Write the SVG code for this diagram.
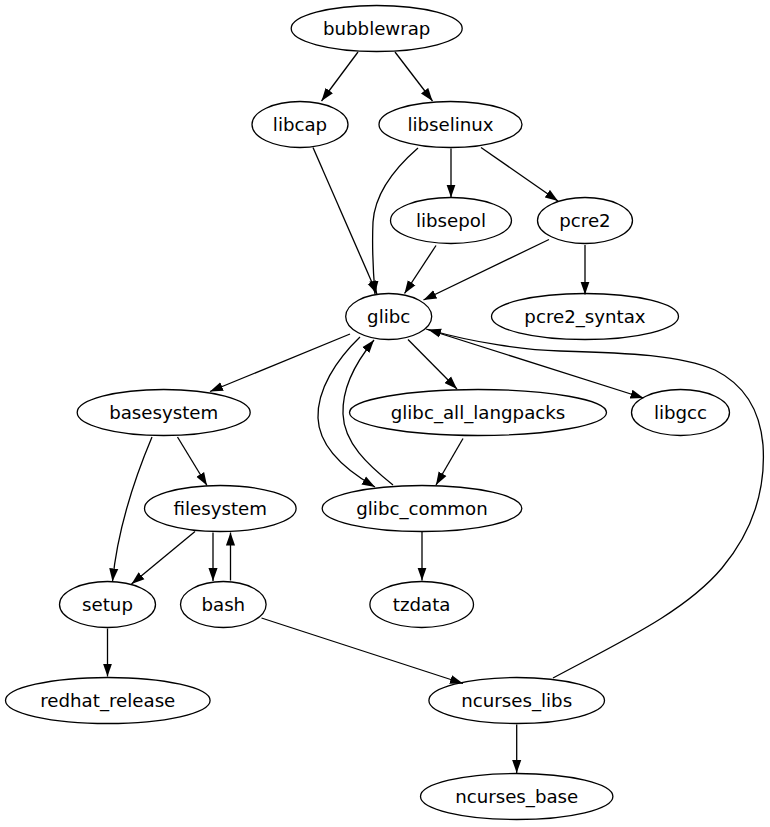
<svg xmlns="http://www.w3.org/2000/svg" width="770" height="827" viewBox="0 0 770 827">
<style>
.node ellipse{fill:none;stroke:#000;stroke-width:1.3}
.node text{font-family:"DejaVu Sans","Liberation Sans",sans-serif;font-size:18.2px;text-anchor:middle;fill:#000}
.edges path{fill:none;stroke:#000;stroke-width:1.3;marker-end:url(#arrow)}
</style>
<defs>
<marker id="arrow" markerUnits="userSpaceOnUse" viewBox="0 0 13 10" refX="13" refY="5" markerWidth="13" markerHeight="10" orient="auto">
<path d="M0,0.45 L13,5 L0,9.55 z" fill="#000"/>
</marker>
</defs>
<rect width="770" height="827" fill="#fff"/>
<g id="edges" class="edges">
<path d="M358,52 L321.5,101"/>
<path d="M395,52 L432.5,101"/>
<path d="M313,147.5 L377,294"/>
<path d="M418,148 C395,168 375,192 373,222 C372,245 373,270 375,294"/>
<path d="M451,148.5 L451,197.5"/>
<path d="M481,147.5 L558,201"/>
<path d="M436,245.5 L404.5,293.5"/>
<path d="M549,239.5 L423.5,300"/>
<path d="M585,245 L585,294.5"/>
<path d="M350,334 L210,391.5"/>
<path d="M408,339.5 L457,389"/>
<path d="M426,329 L643.5,398"/>
<path d="M360,337 C336,360 317,390 318,418 C319,445 342,468 375,487"/>
<path d="M393,485 C368,465 344,443 343,414 C342,388 356,362 374,340"/>
<path d="M463,438.5 L436,485"/>
<path d="M422,532 L422,580.5"/>
<path d="M177.5,437 L207,485.5"/>
<path d="M152,437 C136,475 118,525 112.5,581.5"/>
<path d="M195,531.5 L131.5,584"/>
<path d="M213,532.5 L213,581"/>
<path d="M230.5,580.5 L230.5,532.5"/>
<path d="M107.5,628.5 L107.5,676.5"/>
<path d="M261.5,618 L463,683.5"/>
<path d="M516.7,724.5 L516.7,773"/>
<path d="M553,678 C620,642 685,612 722,568 C752,532 766,490 763,445 C760,410 745,385 715,370 C680,355 630,353 560,351 C525,350 475,343 428,329.5"/>
</g>
<g id="bubblewrap" class="node"><ellipse cx="376.7" cy="28.5" rx="85.5" ry="23"/><text x="376.7" y="34.5">bubblewrap</text></g>
<g id="libcap" class="node"><ellipse cx="300" cy="124.5" rx="48" ry="23"/><text x="300" y="130.5">libcap</text></g>
<g id="libselinux" class="node"><ellipse cx="450.5" cy="124.5" rx="71.5" ry="23"/><text x="450.5" y="130.5">libselinux</text></g>
<g id="libsepol" class="node"><ellipse cx="451" cy="220.5" rx="60.5" ry="23"/><text x="451" y="226.5">libsepol</text></g>
<g id="pcre2" class="node"><ellipse cx="585" cy="220.5" rx="47.5" ry="23"/><text x="585" y="226.5">pcre2</text></g>
<g id="glibc" class="node"><ellipse cx="388.7" cy="316.5" rx="43" ry="23"/><text x="388.7" y="322.5">glibc</text></g>
<g id="pcre2_syntax" class="node"><ellipse cx="585" cy="316.5" rx="93.5" ry="23"/><text x="585" y="322.5">pcre2_syntax</text></g>
<g id="basesystem" class="node"><ellipse cx="163.7" cy="412.5" rx="86.5" ry="23"/><text x="163.7" y="418.5">basesystem</text></g>
<g id="glibc_all_langpacks" class="node"><ellipse cx="478" cy="412.5" rx="128.5" ry="23"/><text x="478" y="418.5">glibc_all_langpacks</text></g>
<g id="libgcc" class="node"><ellipse cx="680.5" cy="412.5" rx="49" ry="23"/><text x="680.5" y="418.5">libgcc</text></g>
<g id="filesystem" class="node"><ellipse cx="220.3" cy="508.5" rx="75.8" ry="23"/><text x="220.3" y="514.5">filesystem</text></g>
<g id="glibc_common" class="node"><ellipse cx="422" cy="508.5" rx="99.8" ry="23"/><text x="422" y="514.5">glibc_common</text></g>
<g id="setup" class="node"><ellipse cx="107.5" cy="604.5" rx="48" ry="23"/><text x="107.5" y="610.5">setup</text></g>
<g id="bash" class="node"><ellipse cx="223.3" cy="604.5" rx="42.8" ry="23"/><text x="223.3" y="610.5">bash</text></g>
<g id="tzdata" class="node"><ellipse cx="421.7" cy="604.5" rx="51.8" ry="23"/><text x="421.7" y="610.5">tzdata</text></g>
<g id="redhat_release" class="node"><ellipse cx="107.8" cy="700.5" rx="102.3" ry="23"/><text x="107.8" y="706.5">redhat_release</text></g>
<g id="ncurses_libs" class="node"><ellipse cx="516.7" cy="700.5" rx="87.8" ry="23"/><text x="516.7" y="706.5">ncurses_libs</text></g>
<g id="ncurses_base" class="node"><ellipse cx="516.7" cy="796.5" rx="96.2" ry="23"/><text x="516.7" y="802.5">ncurses_base</text></g>
</svg>
